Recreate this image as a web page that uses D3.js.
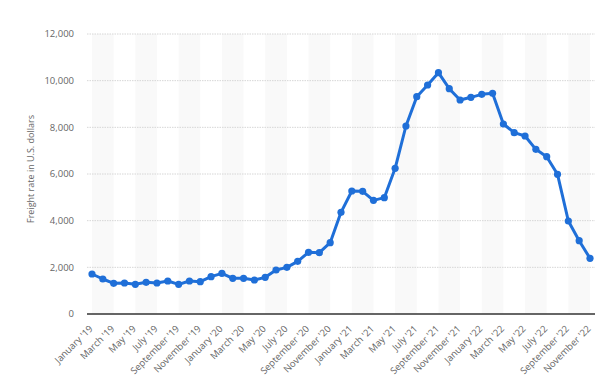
<!DOCTYPE html>
<html>
<head>
<meta charset="utf-8">
<script src="https://cdn.jsdelivr.net/npm/d3@7"></script>
<style>
  body { margin: 0; background: #fff; }
  text { font-family: "Open Sans", sans-serif; fill: #666; }
</style>
</head>
<body>
<svg id="chart" width="600" height="382"></svg>
<script>
(function () {
    'use strict';

    const WIDTH = 600;
    const HEIGHT = 382;

    const monthNames = ["January", "February", "March", "April", "May", "June", "July",
        "August", "September", "October", "November", "December"];
    const years = ["19", "20", "21", "22"];
    const months = [];
    years.forEach(y => monthNames.forEach(m => months.push(m + " '" + y)));
    months.length = 47; // Jan '19 .. Nov '22

    const rates = [1714, 1500, 1314, 1329, 1271, 1357, 1329, 1414, 1271, 1414, 1386, 1600,
        1743, 1529, 1529, 1457, 1571, 1886, 2000, 2257, 2643, 2629, 3057, 4357,
        5271, 5257, 4871, 4986, 6243, 8057, 9314, 9814, 10343, 9657, 9171, 9286,
        9414, 9457, 8143, 7771, 7629, 7057, 6743, 5986, 3986, 3143, 2386];

    const yTicks = [0, 2000, 4000, 6000, 8000, 10000, 12000];

    const margin = {top: 34, right: 5, bottom: 68, left: 87};
    const plotW = WIDTH - margin.left - margin.right;
    const plotH = HEIGHT - margin.top - margin.bottom;

    let svg = d3.select('#chart');
    let g = svg.append('g').attr('transform', `translate(${margin.left},${margin.top})`);

    let x = d3.scalePoint().domain(months).range([5, plotW - 5]);
    let y = d3.scaleLinear().domain([0, 12000]).range([plotH, 0]);

    // alternating bands every two months
    let bandStarts = months.filter((m, i) => i % 4 === 0 && i + 2 < months.length);
    g.selectAll('rect.band')
        .data(bandStarts)
        .enter().append('rect')
        .attr('class', 'band')
        .attr('x', d => x(d))
        .attr('y', 0)
        .attr('width', x.step() * 2)
        .attr('height', plotH)
        .attr('fill', '#f9f9f9');

    // gridlines
    g.selectAll('line.grid')
        .data(yTicks.filter(d => d > 0))
        .enter().append('line')
        .attr('class', 'grid')
        .attr('x1', 0).attr('x2', plotW)
        .attr('y1', d => y(d)).attr('y2', d => y(d))
        .attr('stroke', '#d6d6d6')
        .attr('stroke-dasharray', '1.5,1');

    // y axis labels
    g.selectAll('text.ytick')
        .data(yTicks)
        .enter().append('text')
        .attr('class', 'ytick')
        .attr('x', -13)
        .attr('y', d => y(d))
        .attr('dy', '0.35em')
        .attr('text-anchor', 'end')
        .style('font-size', '9.5px')
        .text(d3.format(','));

    g.append('text')
        .attr('transform', `translate(${-53},${plotH / 2 - 5}) rotate(-90)`)
        .attr('text-anchor', 'middle')
        .style('font-size', '9px')
        .text('Freight rate in U.S. dollars');

    // x axis line
    g.append('line')
        .attr('x1', 0).attr('x2', plotW)
        .attr('y1', plotH).attr('y2', plotH)
        .attr('stroke', '#333')
        .attr('stroke-width', 1.5);

    // x labels
    g.selectAll('text.xtick')
        .data(months.filter((m, i) => i % 2 === 0))
        .enter().append('text')
        .attr('class', 'xtick')
        .attr('transform', d => `translate(${x(d) - 1},${plotH + 13}) rotate(-45)`)
        .attr('text-anchor', 'end')
        .attr('dy', '0.35em')
        .style('font-size', '9.5px')
        .text(d => d);

    // line
    let line = d3.line()
        .x((d, i) => x(months[i]))
        .y(d => y(d));

    g.append('path')
        .datum(rates)
        .attr('d', line)
        .attr('fill', 'none')
        .attr('stroke', '#1f6fd8')
        .attr('stroke-width', 3)
        .attr('stroke-linejoin', 'round');

    g.selectAll('circle.dot')
        .data(rates)
        .enter().append('circle')
        .attr('class', 'dot')
        .attr('cx', (d, i) => x(months[i]))
        .attr('cy', d => y(d))
        .attr('r', 3.6)
        .attr('fill', '#1f6fd8');
})();
</script>
</body>
</html>
